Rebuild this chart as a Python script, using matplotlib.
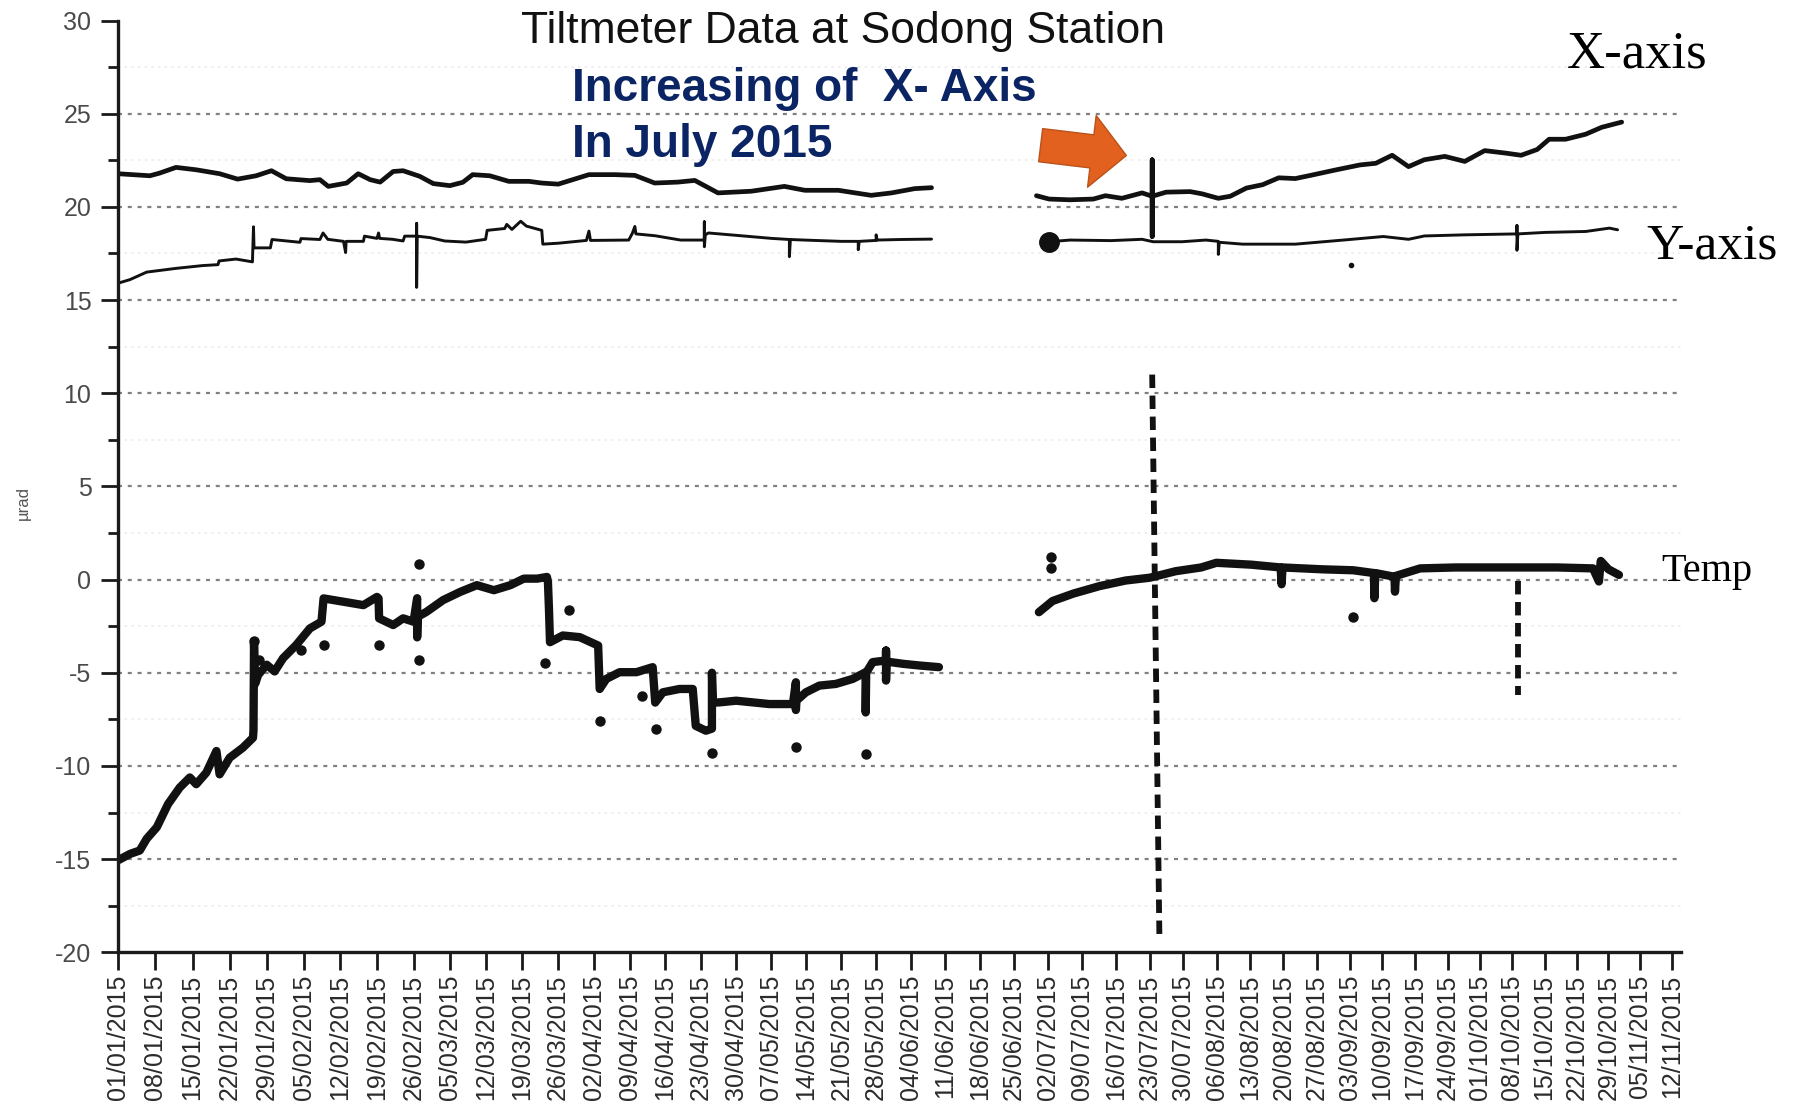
import numpy as np
import pandas as pd
import matplotlib
matplotlib.use("Agg")
import matplotlib.pyplot as plt
from matplotlib.ticker import FixedLocator
from matplotlib.patches import FancyArrowPatch

# ---------------------------------------------------------------
# Tiltmeter readings, Sodong station, 2015
# x positions are days after 1 January 2015, values in µrad
# ---------------------------------------------------------------

# X-axis tilt, January - June
x_tilt_a_day = [0, 6, 7.8, 10.9, 14.7, 19.1, 22.5, 26, 28.9, 31.7, 36.2, 38.1, 39.7, 43.2, 45.4,
                47.7, 49.6, 52.1, 54, 57.2, 59.8, 63, 65.5, 67.4, 70.7, 74.4, 78.3, 80.8, 84, 90,
                95.1, 99, 102.9, 107.5, 110.8, 115.4, 122, 128.6, 132.7, 139.4, 146, 150.1, 154.8, 158.2]
x_tilt_a_val = [21.78, 21.67, 21.81, 22.12, 21.99, 21.78, 21.49, 21.67, 21.94, 21.51, 21.41, 21.46,
                21.10, 21.28, 21.78, 21.46, 21.33, 21.90, 21.94, 21.64, 21.25, 21.14, 21.32, 21.73,
                21.67, 21.37, 21.37, 21.28, 21.22, 21.73, 21.73, 21.69, 21.28, 21.33, 21.42, 20.75,
                20.84, 21.10, 20.89, 20.89, 20.62, 20.75, 20.98, 21.03]

# X-axis tilt, July - November
x_tilt_b_day = [179.6, 182.2, 186.5, 191.3, 193.8, 197.2, 201.4, 203.5, 203.5, 203.5, 203.5, 206.4,
                211.4, 213.9, 217.3, 219.8, 223.2, 226.6, 230.0, 233.5, 236.9, 242.0, 247.2, 250.6,
                254.1, 257.6, 261.0, 265.4, 269.7, 274.0, 278.4, 281.9, 285.4, 288.0, 291.6, 296.0,
                299.5, 303.9]
x_tilt_b_val = [20.60, 20.42, 20.38, 20.42, 20.60, 20.46, 20.75, 20.57, 22.53, 18.41, 20.57, 20.79,
                20.82, 20.70, 20.46, 20.57, 21.01, 21.19, 21.56, 21.52, 21.70, 21.98, 22.25, 22.34,
                22.77, 22.16, 22.53, 22.71, 22.44, 23.02, 22.89, 22.77, 23.08, 23.63, 23.63, 23.90,
                24.27, 24.55]

# Y-axis tilt, January - June
y_tilt_a_day = [0, 2.3, 5.4, 10.9, 15.9, 18.8, 19.0, 22.2, 25.3, 25.5, 25.6, 28.7, 29.0, 34.3, 34.5,
                38.1, 38.7, 39.6, 42.6, 43.0, 43.1, 46.4, 46.6, 49.0, 49.3, 49.5, 52.0, 54.0, 54.3,
                56.6, 56.6, 56.6, 56.7, 59.2, 62.0, 66.1, 69.9, 70.2, 73.6, 74.0, 75.0, 76.7, 77.8,
                80.8, 81.0, 84.0, 89.5, 90.0, 90.3, 97.8, 98.5, 99.0, 99.2, 103.0, 108.0, 112.7,
                112.7, 112.7, 112.9, 113.5, 120.0, 126.0, 129.6, 129.6, 129.8, 132.5, 140.0, 143.4,
                143.4, 143.6, 147.0, 147.0, 147.2, 152.0, 158.2]
y_tilt_a_val = [15.90, 16.10, 16.50, 16.70, 16.85, 16.90, 17.10, 17.20, 17.05, 18.93, 17.80, 17.80,
                18.25, 18.10, 18.30, 18.25, 18.60, 18.26, 18.15, 17.55, 18.15, 18.15, 18.43, 18.31,
                18.60, 18.31, 18.26, 18.17, 18.43, 18.43, 19.11, 15.68, 18.43, 18.35, 18.17, 18.11,
                18.26, 18.74, 18.84, 19.06, 18.79, 19.23, 18.97, 18.74, 18.00, 18.05, 18.20, 18.70,
                18.20, 18.22, 18.58, 18.95, 18.55, 18.45, 18.22, 18.22, 19.20, 17.86, 18.50, 18.60,
                18.45, 18.31, 18.25, 17.33, 18.25, 18.22, 18.15, 18.15, 17.70, 18.15, 18.20, 18.50,
                18.22, 18.25, 18.27]

# Y-axis tilt, July - November
y_tilt_b_day = [182.2, 186.5, 195.0, 201.4, 203.7, 209.7, 214.7, 217.3, 217.3, 217.5, 222.4, 233.5,
                243.7, 252.2, 257.6, 261.0, 269.7, 281.0, 281.0, 281.0, 281.2, 287.1, 296.0, 301.2,
                303.0]
y_tilt_b_val = [18.13, 18.22, 18.19, 18.26, 18.13, 18.13, 18.22, 18.15, 17.45, 18.10, 18.00, 18.00,
                18.22, 18.41, 18.26, 18.44, 18.50, 18.55, 19.00, 17.67, 18.55, 18.63, 18.68, 18.86,
                18.77]
y_tilt_single_day = [245.4]
y_tilt_single_val = [16.87]

# Temperature trace, January - June
temp_a_day = [0, 2.3, 4.1, 5.4, 7.3, 9.4, 11.6, 13.5, 14.7, 16.6, 18.5, 19.1, 21.0, 23.5, 25.4, 25.5,
              25.6, 25.8, 26.4, 28.0, 29.5, 31.1, 33.6, 36.2, 38.4, 38.8, 42.6, 46.4, 49.0, 49.3,
              49.4, 52.1, 54.0, 56.0, 56.7, 56.7, 56.8, 58.5, 61.7, 65.0, 68.2, 71.5, 74.7, 77.3,
              79.9, 81.8, 82.0, 82.2, 82.4, 84.9, 88.2, 91.8, 92.1, 93.4, 96.0, 99.3, 102.5, 103.0,
              104.5, 107.8, 110.4, 111.0, 113.0, 114.2, 114.2, 114.4, 115.7, 119.0, 122.3, 125.6,
              130.3, 130.9, 130.9, 131.0, 132.9, 135.6, 138.9, 142.3, 144.9, 144.9, 145.0, 146.3,
              149.0, 149.0, 149.0, 149.1, 152.4, 155.7, 159.7]
temp_a_val = [-15.07, -14.72, -14.54, -13.91, -13.29, -12.05, -11.16, -10.62, -10.98, -10.36, -9.20,
              -10.45, -9.56, -9.02, -8.49, -8.10, -3.40, -5.60, -5.11, -4.57, -4.93, -4.22, -3.51,
              -2.62, -2.26, -1.01, -1.19, -1.37, -0.93, -1.01, -2.08, -2.44, -2.08, -2.26, -1.00,
              -3.10, -2.00, -1.73, -1.10, -0.66, -0.30, -0.57, -0.30, 0.05, 0.05, 0.14, -0.13,
              -1.60, -3.36, -3.00, -3.09, -3.54, -5.87, -5.33, -4.97, -4.97, -4.70, -6.60, -6.05,
              -5.87, -5.87, -7.85, -8.11, -8.00, -5.00, -6.60, -6.59, -6.50, -6.59, -6.68, -6.68,
              -5.51, -7.00, -6.50, -6.05, -5.69, -5.60, -5.33, -4.97, -7.13, -5.00, -4.43, -4.34,
              -3.81, -5.42, -4.40, -4.52, -4.61, -4.70]

# Temperature trace, July - November
temp_b_day = [180.1, 182.9, 187.2, 192.6, 198.0, 203.0, 208.4, 213.7, 216.9, 224.2, 230.4, 230.6,
              230.8, 239.3, 245.8, 250.2, 250.3, 250.5, 254.6, 254.7, 254.9, 260.1, 267.7, 278.8,
              289.8, 297.6, 298.9, 299.3, 301.0, 303.3]
temp_b_val = [-1.75, -1.15, -0.75, -0.35, -0.05, 0.10, 0.45, 0.65, 0.90, 0.80, 0.65, -0.25, 0.65,
              0.55, 0.50, 0.35, -1.00, 0.35, 0.15, -0.65, 0.20, 0.60, 0.65, 0.65, 0.65, 0.60,
              -0.10, 1.00, 0.55, 0.25]

# Isolated temperature readings
temp_dot_day = [25.6, 26.6, 34.6, 38.9, 49.4, 57.0, 57.0, 81.4, 86.1, 92.1, 100.4, 103.2, 114.2,
                130.9, 144.9, 182.6, 182.6, 245.8]
temp_dot_val = [-3.3, -4.3, -3.77, -3.5, -3.5, 0.85, -4.31, -4.48, -1.65, -7.58, -6.23, -8.0, -9.28,
                -9.01, -9.37, 1.2, 0.6, -2.0]

# Columns of temperature readings on 23/07 and 08/10
temp_col1_day = [203.5, 205.0]
temp_col1_val = [11.0, -19.2]
temp_col2_day = [281.3, 281.3]
temp_col2_val = [-0.1, -6.2]

# Weekly date ticks
tick_dates = pd.date_range("2015-01-01", "2015-11-12", freq="7D")
tick_days = [(d - tick_dates[0]).days for d in tick_dates]
tick_labels = [d.strftime("%d/%m/%Y") for d in tick_dates]

y_major = [-20, -15, -10, -5, 0, 5, 10, 15, 20, 25, 30]
grid_major = [25, 20, 15, 10, 5, 0, -5, -10, -15]
grid_minor = [27.5, 22.5, 17.5, 12.5, 7.5, 2.5, -2.5, -7.5, -12.5, -17.5]

# ---------------------------------------------------------------
plt.rcParams["font.family"] = ["Liberation Sans", "DejaVu Sans"]

fig = plt.figure(figsize=(17.93, 11.10), dpi=100)
ax = fig.add_axes([0.0657, 0.1421, 0.8718, 0.8394])

# Slightly compressed time axis: weekly spacing narrows towards November
K = 2.5e-4


def _fwd(d):
    d = np.asarray(d, dtype=float)
    return d - K * d * d


def _inv(u):
    u = np.asarray(u, dtype=float)
    return (1.0 - np.sqrt(np.clip(1.0 - 4.0 * K * u, 0.0, None))) / (2.0 * K)


ax.set_xscale("function", functions=(_fwd, _inv))
ax.set_xlim(0, 317)
ax.set_ylim(-20, 30)

# horizontal guide lines
for g in grid_minor:
    ax.axhline(g, color="#ececec", lw=1.2, ls=(0, (1.5, 2.5)), zorder=0)
for g in grid_major:
    ax.axhline(g, color="#808080", lw=1.6, ls=(0, (1.8, 2.6)), zorder=0)

ink = "#111111"
line_kw = dict(color=ink, solid_joinstyle="round", solid_capstyle="round")

ax.plot(x_tilt_a_day, x_tilt_a_val, lw=3.4, **line_kw)
ax.plot(x_tilt_b_day, x_tilt_b_val, lw=3.4, **line_kw)
ax.plot(y_tilt_a_day, y_tilt_a_val, lw=2.1, **line_kw)
ax.plot(y_tilt_b_day, y_tilt_b_val, lw=2.1, **line_kw)
ax.plot(y_tilt_b_day[:1], y_tilt_b_val[:1], "o", ms=14, color=ink)
ax.plot(y_tilt_single_day, y_tilt_single_val, "o", ms=3, color=ink)

ax.plot(temp_a_day, temp_a_val, lw=6.0, **line_kw)
ax.plot(temp_b_day, temp_b_val, lw=6.0, **line_kw)
ax.plot(temp_dot_day, temp_dot_val, "o", ms=6.5, color=ink, ls="none")
ax.plot(temp_col1_day, temp_col1_val, color=ink, lw=4.2, ls=(0, (2.3, 1.3)))
ax.plot(temp_col2_day, temp_col2_val, color=ink, lw=4.2, ls=(0, (2.3, 1.3)))

# axes frame and ticks
for side in ("top", "right"):
    ax.spines[side].set_visible(False)
for side in ("left", "bottom"):
    ax.spines[side].set_linewidth(2.4)
    ax.spines[side].set_color("#1a1a1a")

ax.xaxis.set_major_locator(FixedLocator(tick_days))
ax.set_xticklabels(tick_labels, rotation=90, fontsize=18, color="#2b2b2b")
ax.xaxis.set_minor_locator(FixedLocator([]))
ax.tick_params(axis="x", which="major", length=13, width=2.0, color="#1a1a1a", pad=3)

ax.set_yticks(y_major)
ax.set_yticklabels([str(v) for v in y_major], fontsize=18, color="#4a4a4a")
ax.yaxis.set_minor_locator(FixedLocator(grid_minor))
ax.tick_params(axis="y", which="major", length=12, width=2.0, color="#1a1a1a", pad=7)
ax.tick_params(axis="y", which="minor", length=7, width=2.0, color="#1a1a1a")

# labels
fig.text(0.0128, 0.547, "µrad", rotation=90, ha="center", va="center", fontsize=12, color="#555555")
fig.text(0.470, 0.972, "Tiltmeter Data at Sodong Station", ha="center", va="center",
         fontsize=32, color="#111111")

note_kw = dict(ha="left", va="center", fontsize=33, fontweight="bold", color="#0b2463")
fig.text(0.319, 0.9197, "Increasing of  X- Axis", **note_kw)
fig.text(0.319, 0.8692, "In July 2015", **note_kw)

serif_kw = dict(ha="center", va="center", color="black", family=["Liberation Serif", "DejaVu Serif"])
fig.text(0.913, 0.9506, "X-axis", fontsize=38, **serif_kw)
fig.text(0.955, 0.7786, "Y-axis", fontsize=37, **serif_kw)
fig.text(0.952, 0.485, "Temp", fontsize=29, **serif_kw)

arrow = FancyArrowPatch((0.5804, 0.8692), (0.6282, 0.8599), transform=fig.transFigure,
                        arrowstyle="simple,head_length=25,head_width=52,tail_width=24",
                        mutation_scale=1, shrinkA=0, shrinkB=0,
                        facecolor="#E2611F", edgecolor="#B9521B", lw=1.0)
fig.patches.append(arrow)

fig.savefig("out.png", dpi=100)
